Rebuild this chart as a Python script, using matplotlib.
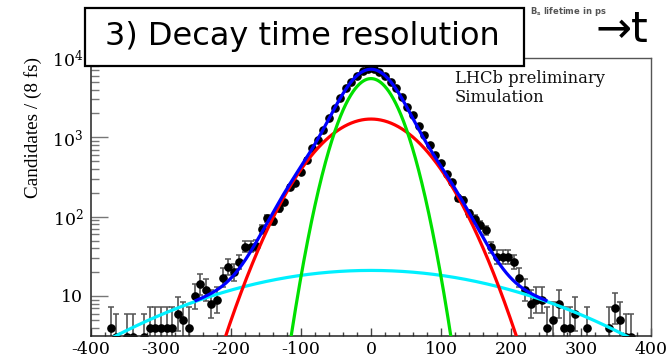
import numpy as np
import matplotlib
matplotlib.use('Agg')
import matplotlib.pyplot as plt
from matplotlib.patches import Rectangle
from matplotlib.ticker import FixedLocator, FixedFormatter, NullFormatter, MultipleLocator

plt.rcParams['axes.unicode_minus'] = False
plt.rcParams['mathtext.fontset'] = 'dejavuserif'

# ---- data (decay time residual, 8 fs bins from -400 to 400 fs) ----
bin_lo, bin_hi, bin_w = -400, 400, 8
counts = [0, 0, 0, 4, 3, 0, 3, 3, 0, 3,
          4, 4, 4, 4, 4, 6, 5, 4, 10, 14,
          12, 8, 9, 17, 23, 20, 27, 42, 42, 43,
          69, 95, 87, 127, 151, 235, 268, 369, 519, 729,
          927, 1240, 1742, 2330, 3170, 4150, 5020, 5990, 6870, 7250,
          7250, 6740, 5990, 5020, 4150, 3270, 2440, 1915, 1380, 1072,
          802, 600, 480, 345, 270, 171, 164, 110, 93, 78,
          67, 41, 31, 31, 31, 27, 17, 12, 8, 9,
          9, 4, 5, 8, 4, 4, 6, 0, 4, 0,
          0, 0, 4, 7, 5, 3, 3, 0, 0, 0]

# fit components (amplitude, mean, sigma)
core_amp, core_mean, core_sigma = 5500.0, 0.0, 29.5      # green
mid_amp, mid_mean, mid_sigma = 1700.0, 0.0, 58.5         # red
wide_amp, wide_mean, wide_sigma = 21.0, 0.0, 187.0       # cyan
total_range = (-250, 250)                                # blue

xticks_major = [-400, -300, -200, -100, 0, 100, 200, 300, 400]
yticks_major = [10, 100, 1000, 10000]
ytick_labels = ['10', r'$\mathregular{10^{2}}$', r'$\mathregular{10^{3}}$', r'$\mathregular{10^{4}}$']

# ---- figure ----
W, H = 672, 358
fig = plt.figure(figsize=(W / 100, H / 100), dpi=100)
ax_l, ax_r, ax_t, ax_b = 91, 651, 58, 336
ax = fig.add_axes([ax_l / W, 1 - ax_b / H, (ax_r - ax_l) / W, (ax_b - ax_t) / H])

centers = np.arange(bin_lo + bin_w / 2, bin_hi, bin_w)
n = np.array(counts, dtype=float)
mask = n > 0
nm = n[mask]
err_up = 1 + np.sqrt(nm + 0.75)
err_lo = nm - nm * (1 - 1 / (9 * nm) - 1 / (3 * np.sqrt(nm))) ** 3

ax.errorbar(centers[mask], nm, yerr=[err_lo, err_up], fmt='o', color='black',
            ms=5.2, ecolor='#555555', elinewidth=1.2, capsize=2.2, capthick=1.1, zorder=2)


def gauss(x, a, m, s):
    return a * np.exp(-0.5 * ((x - m) / s) ** 2)


xs = np.linspace(bin_lo, bin_hi, 1601)
ax.plot(xs, gauss(xs, wide_amp, wide_mean, wide_sigma), color='#00f0ff', lw=2.3, zorder=3)
ax.plot(xs, gauss(xs, mid_amp, mid_mean, mid_sigma), color='#ff0000', lw=2.3, zorder=3)
ax.plot(xs, gauss(xs, core_amp, core_mean, core_sigma), color='#00e000', lw=2.3, zorder=3)
xt = np.linspace(total_range[0], total_range[1], 1001)
tot = gauss(xt, wide_amp, wide_mean, wide_sigma) + gauss(xt, mid_amp, mid_mean, mid_sigma) + \
    gauss(xt, core_amp, core_mean, core_sigma)
ax.plot(xt, tot, color='#0000ff', lw=2.3, zorder=4)

ax.set_yscale('log')
ax.set_xlim(bin_lo, bin_hi)
ax.set_ylim(3.13, 1e4)

ax.xaxis.set_major_locator(FixedLocator(xticks_major))
ax.xaxis.set_minor_locator(MultipleLocator(20))
ax.yaxis.set_major_locator(FixedLocator(yticks_major))
ax.yaxis.set_major_formatter(FixedFormatter(ytick_labels))
minor_y = [m * 10 ** d for d in range(0, 4) for m in range(2, 10)]
ax.yaxis.set_minor_locator(FixedLocator(minor_y))
ax.yaxis.set_minor_formatter(NullFormatter())

ax.tick_params(axis='y', which='major', direction='in', length=12.2, width=1.0, color='#777777',
               pad=5.5, labelsize=12.5, left=True, right=False)
ax.tick_params(axis='y', which='minor', direction='in', length=6.1, width=1.0, color='#777777',
               left=True, right=False)
ax.tick_params(axis='x', which='major', direction='in', length=6, width=1.0, color='#444444',
               pad=3.5, labelsize=12.5, bottom=True, top=False)
ax.tick_params(axis='x', which='minor', direction='in', length=3, width=1.0, color='#444444',
               bottom=True, top=False)
for lab in ax.get_xticklabels() + ax.get_yticklabels():
    lab.set_family('DejaVu Serif')

for side in ['left', 'bottom']:
    ax.spines[side].set_color('#222222')
    ax.spines[side].set_linewidth(1.1)
for side in ['right', 'top']:
    ax.spines[side].set_color('#555555')
    ax.spines[side].set_linewidth(1.0)

# y title placed high on the axis, as in ROOT
ax.set_ylabel('Candidates / (8 fs)', family='Liberation Serif', fontsize=13.8)
ax.yaxis.set_label_coords(-(ax_l - 42) / (ax_r - ax_l), 1 - (127 - ax_t) / (ax_b - ax_t))

ax.text((455 - ax_l) / (ax_r - ax_l), 1 - (88 - ax_t) / (ax_b - ax_t),
        'LHCb preliminary\nSimulation', transform=ax.transAxes, family='DejaVu Serif',
        fontsize=11.8, va='center', ha='left', linespacing=1.12, color='#111111')

# ---- slide overlay elements ----
fig.text(530 / W, 1 - 12 / H, r'B$_\mathregular{s}$ lifetime in ps', fontsize=6, color='#555555',
         family='DejaVu Sans', fontweight='bold', va='center', ha='left')
fig.text(595 / W, 1 - 42 / H, '\u2192t', fontsize=31, color='black', family='DejaVu Sans',
         va='baseline', ha='left')

bx0, bx1, by0, by1 = 85, 524, 8, 66
fig.patches.append(Rectangle((bx0 / W, 1 - by1 / H), (bx1 - bx0) / W, (by1 - by0) / H,
                             transform=fig.transFigure, facecolor='white', edgecolor='black',
                             linewidth=1.6, zorder=10))
fig.text(105 / W, 1 - 37 / H, '3) Decay time resolution', fontsize=23, family='DejaVu Sans',
         va='center', ha='left', color='black', zorder=11)

fig.savefig('out.png', dpi=100)
